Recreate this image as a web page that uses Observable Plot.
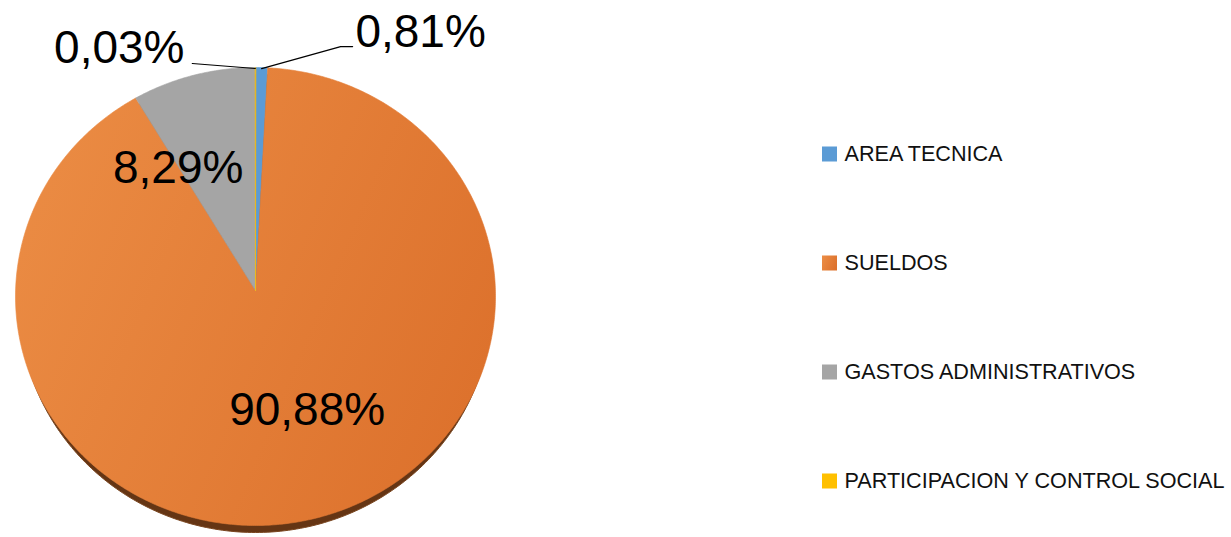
<!DOCTYPE html>
<html><head><meta charset="utf-8">
<script src="https://cdn.jsdelivr.net/npm/d3@7"></script>
<script src="https://cdn.jsdelivr.net/npm/@observablehq/plot@0.6"></script>
<style>body{margin:0;background:#fff;overflow:hidden}</style>
</head><body><div id="chart"></div>
<script>
// ---- data ----
const categories = ["AREA TECNICA", "SUELDOS", "GASTOS ADMINISTRATIVOS", "PARTICIPACION Y CONTROL SOCIAL"];
const values = [0.81, 90.88, 8.29, 0.03];
const labels = ["0,81%", "90,88%", "8,29%", "0,03%"];
const colors = ["#5B9BD5", "url(#orangeGrad)", "#A5A5A5", "#FFC000"];

// ---- layout (pixel space) ----
const W = 1231, H = 537;
const cx = 255, cy = 296, rx = 240, ry = 229, apexY = 290;
const total = d3.sum(values);

const pt = (deg, k = 1, oy = 0, kx = 1) => {
  const a = deg * Math.PI / 180;
  return {x: cx + k * kx * rx * Math.sin(a), y: cy + oy - k * ry * Math.cos(a)};
};

let acc = 0;
const slices = categories.map((name, i) => {
  const a0 = acc / total * 360;
  acc += values[i];
  const a1 = acc / total * 360;
  return {name, a0, a1, mid: (a0 + a1) / 2, label: labels[i]};
});

// slice polygons
const slicePts = [];
for (const s of slices) {
  slicePts.push({name: s.name, x: cx, y: apexY});
  const n = Math.max(2, Math.ceil((s.a1 - s.a0) / 0.5));
  for (let j = 0; j <= n; j++) {
    const p = pt(s.a0 + (s.a1 - s.a0) * j / n);
    slicePts.push({name: s.name, ...p});
  }
}
// shadow ellipse (visible only along the bottom edge)
const shadowPts = d3.range(0, 361, 1).map(d => pt(d, 1, 7, 0.985));

// label positions: inside labels from mid-angle, outside labels with leaders
const byName = Object.fromEntries(slices.map(s => [s.name, s]));
const sS = byName["SUELDOS"], sG = byName["GASTOS ADMINISTRATIVOS"];
const sA = byName["AREA TECNICA"], sP = byName["PARTICIPACION Y CONTROL SOCIAL"];
const pS = pt(sS.mid, 0.6), pG = pt(sG.mid, 0.6);
const eA = pt(sA.mid), eP = pt(sP.mid);

const insideLabels = [
  {label: sS.label, x: pS.x + 18, y: pS.y - 20},
  {label: sG.label, x: pG.x - 40, y: pG.y + 4}
];
const outsideLabels = [
  {label: sA.label, x: eA.x + 159, y: eA.y - 35},
  {label: sP.label, x: eP.x - 136, y: eP.y - 19}
];
const leaders = [
  {g: "A", x: eA.x, y: eA.y + 1}, {g: "A", x: eA.x + 79, y: eA.y - 21}, {g: "A", x: eA.x + 91, y: eA.y - 21},
  {g: "P", x: eP.x, y: eP.y + 1}, {g: "P", x: eP.x - 63, y: eP.y - 4}
];

// legend
const legend = categories.map((name, i) => ({name, y: 154 + i * 109}));

const chart = Plot.plot({
  width: W, height: H,
  margin: 0,
  x: {domain: [0, W], range: [0, W], axis: null},
  y: {domain: [0, H], range: [0, H], axis: null},
  color: {type: "ordinal", domain: categories, range: colors},
  style: {fontFamily: "Liberation Sans, Arial, sans-serif", background: "#fff"},
  marks: [
    Plot.line(shadowPts, {x: "x", y: "y", fill: "#653514", stroke: "#7A4620", strokeWidth: 1, curve: "linear-closed"}),
    Plot.line(slicePts, {x: "x", y: "y", z: "name", fill: "name", stroke: "name", strokeWidth: 0.6, curve: "linear-closed"}),
    Plot.line(leaders, {x: "x", y: "y", z: "g", stroke: "#000", strokeWidth: 1.2}),
    Plot.text(insideLabels, {x: "x", y: "y", text: "label", fontSize: 46, fill: "#000"}),
    Plot.text(outsideLabels, {x: "x", y: "y", text: "label", fontSize: 46, fill: "#000"}),
    Plot.rect(legend, {x1: 822, x2: 837, y1: d => d.y - 7.5, y2: d => d.y + 7.5, fill: "name"}),
    Plot.text(legend, {x: 844, y: "y", text: "name", textAnchor: "start", fontSize: 21.6, fill: "#111"})
  ]
});

const defs = document.createElementNS("http://www.w3.org/2000/svg", "defs");
defs.innerHTML = `<linearGradient id="orangeGrad" x1="0" y1="0.2" x2="1" y2="0.6">
  <stop offset="0" stop-color="#EB8C44"/>
  <stop offset="1" stop-color="#DD722D"/>
</linearGradient>`;
chart.insertBefore(defs, chart.firstChild);
document.getElementById("chart").appendChild(chart);
</script>
</body></html>
